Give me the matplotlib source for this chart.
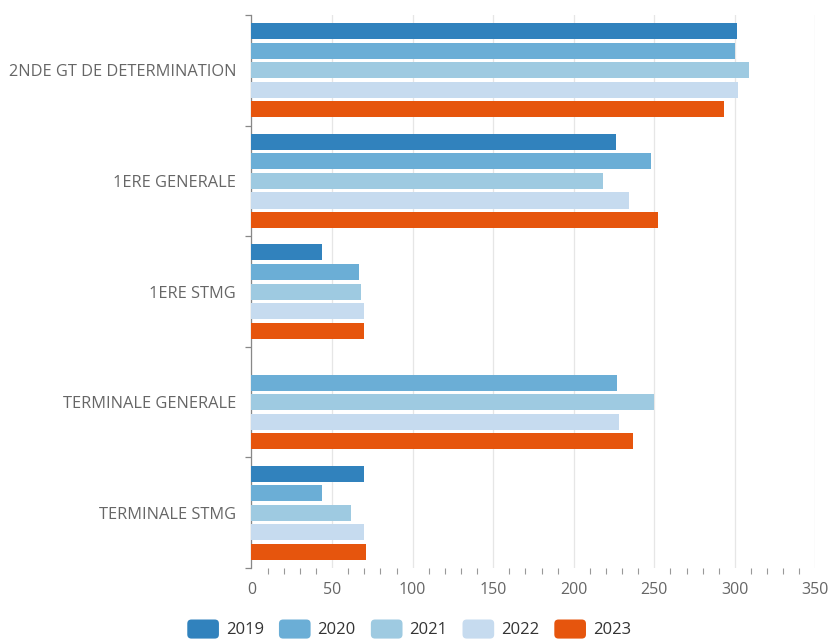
import numpy as np
import matplotlib.pyplot as plt
from matplotlib.patches import FancyBboxPatch, Rectangle
from matplotlib.legend_handler import HandlerPatch

plt.rcParams['font.family'] = ['Open Sans', 'DejaVu Sans']

# donnees
categories = ["2NDE GT DE DETERMINATION", "1ERE GENERALE", "1ERE STMG",
              "TERMINALE GENERALE", "TERMINALE STMG"]
annees = ["2019", "2020", "2021", "2022", "2023"]
v2019 = [301, 226, 44, 0, 70]
v2020 = [300, 248, 67, 227, 44]
v2021 = [309, 218, 68, 250, 62]
v2022 = [302, 234, 70, 228, 70]
v2023 = [293, 252, 70, 237, 71]
series = [v2019, v2020, v2021, v2022, v2023]
couleurs = ["#3182bd", "#6baed6", "#9ecae1", "#c6dbef", "#e6550d"]

gris = "#666666"

fig = plt.figure(figsize=(8.3, 6.39), dpi=100)
ax = fig.add_axes([0.3030, 0.111, 0.6795, 0.8655])

y = np.arange(len(categories))
pas = 0.177
haut = 0.145
for i, (vals, c) in enumerate(zip(series, couleurs)):
    ax.barh(y + (i - 2) * pas, vals, height=haut, color=c, zorder=3)

ax.set_xlim(0, 350)
ax.set_ylim(len(categories) - 0.5, -0.5)

ax.set_xticks(np.arange(0, 351, 50))
ax.set_xticks(np.arange(0, 351, 10), minor=True)
ax.tick_params(axis='x', which='major', length=0, pad=10, labelsize=11.5, labelcolor=gris)
ax.tick_params(axis='x', which='minor', length=4, width=0.8, color="#999999", direction='out')
ax.grid(axis='x', which='major', color="#e6e6e6", linewidth=0.9, zorder=0)

ax.set_yticks(y)
ax.set_yticklabels(categories)
ax.set_yticks(np.arange(-0.5, len(categories), 1), minor=True)
ax.tick_params(axis='y', which='major', length=0, pad=11, labelsize=11.8, labelcolor=gris)
ax.tick_params(axis='y', which='minor', length=4, width=0.9, color="#888888")

for s in ['top', 'right', 'bottom']:
    ax.spines[s].set_visible(False)
ax.spines['left'].set_color("#888888")
ax.spines['left'].set_linewidth(0.9)


class RoundHandler(HandlerPatch):
    def create_artists(self, legend, orig_handle, xdescent, ydescent, width, height, fontsize, trans):
        p = FancyBboxPatch((-xdescent, -ydescent - 2), width, height + 3,
                           boxstyle="round,pad=0,rounding_size=3",
                           facecolor=orig_handle.get_facecolor(), edgecolor='none', transform=trans)
        return [p]


handles = [Rectangle((0, 0), 1, 1, facecolor=c) for c in couleurs]
leg = fig.legend(handles, annees, loc='lower center', bbox_to_anchor=(0.493, -0.022), ncol=5,
                 frameon=False, fontsize=12, handlelength=1.9, handleheight=1.0,
                 handletextpad=0.42, columnspacing=0.9,
                 handler_map={Rectangle: RoundHandler()})
for t in leg.get_texts():
    t.set_color("#333333")

fig.savefig("out.png", dpi=100)
